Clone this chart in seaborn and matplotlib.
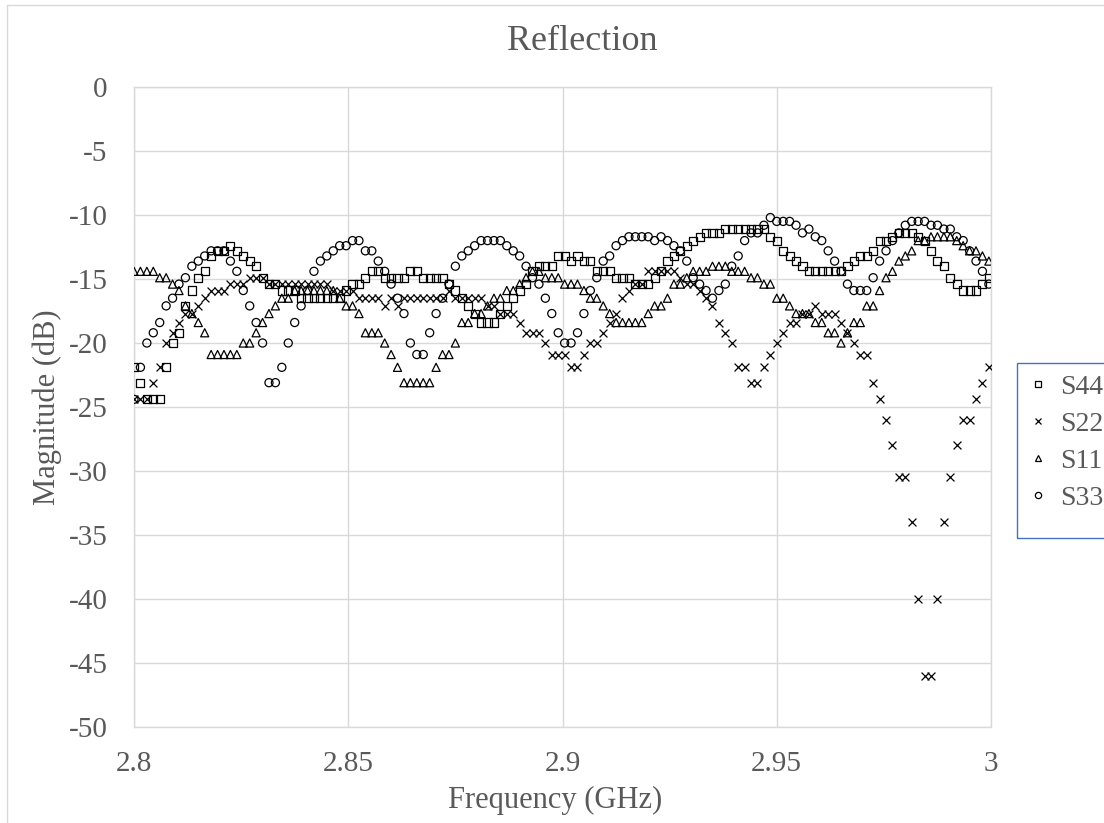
import numpy as np
import pandas as pd
import matplotlib
matplotlib.use("Agg")
import matplotlib.pyplot as plt
from matplotlib.lines import Line2D
from matplotlib.patches import Rectangle
import seaborn as sns

# ---------------- data (dB), sweep 2.8 GHz .. 2.9995 GHz, 1.5 MHz step ----------------
freq = np.round(np.arange(134) * 0.0015 + 2.8, 4)

s44 = [-21.9, -23.1, -24.4, -24.4, -24.4, -21.9, -20.0, -19.2, -17.1, -15.9,
       -14.9, -14.4, -13.2, -12.8, -12.8, -12.4, -12.8, -13.2, -13.6, -14.0,
       -14.9, -15.4, -15.4, -15.9, -15.9, -15.9, -16.5, -16.5, -16.5, -16.5,
       -16.5, -16.5, -16.5, -15.9, -15.4, -15.4, -14.9, -14.4, -14.4, -14.9,
       -14.9, -14.9, -14.9, -14.4, -14.4, -14.9, -14.9, -14.9, -14.9, -15.4,
       -15.9, -16.5, -17.1, -17.7, -18.4, -18.4, -18.4, -17.7, -17.1, -16.5,
       -15.9, -15.4, -14.4, -14.0, -14.0, -14.0, -13.2, -13.2, -13.6, -13.2,
       -13.6, -13.6, -14.4, -14.4, -14.4, -14.9, -14.9, -14.9, -15.4, -15.4,
       -15.4, -14.9, -14.4, -13.6, -13.2, -12.8, -12.4, -12.0, -11.7, -11.4,
       -11.4, -11.4, -11.1, -11.1, -11.1, -11.1, -11.1, -11.1, -11.1, -11.7,
       -12.0, -12.8, -13.2, -13.6, -14.0, -14.4, -14.4, -14.4, -14.4, -14.4,
       -14.4, -14.0, -13.6, -13.2, -13.2, -12.8, -12.0, -12.0, -11.7, -11.4,
       -11.4, -11.4, -11.7, -12.0, -12.8, -13.6, -14.0, -14.9, -15.4, -15.9,
       -15.9, -15.9, -15.4, -14.9]

s22 = [-24.4, -24.4, -24.4, -23.1, -21.9, -20.0, -19.2, -18.4, -17.7, -17.7,
       -17.1, -16.5, -15.9, -15.9, -15.9, -15.4, -15.4, -15.4, -14.9, -14.9,
       -14.9, -15.4, -15.4, -15.4, -15.4, -15.4, -15.4, -15.4, -15.4, -15.4,
       -15.4, -15.9, -15.9, -15.9, -15.9, -16.5, -16.5, -16.5, -16.5, -17.1,
       -16.5, -17.1, -16.5, -16.5, -16.5, -16.5, -16.5, -16.5, -16.5, -15.9,
       -16.5, -16.5, -16.5, -16.5, -16.5, -17.1, -17.1, -17.7, -17.7, -17.7,
       -18.4, -19.2, -19.2, -19.2, -20.0, -20.9, -20.9, -20.9, -21.9, -21.9,
       -20.9, -20.0, -20.0, -19.2, -18.4, -17.7, -16.5, -15.9, -15.4, -15.4,
       -14.4, -14.4, -14.4, -14.4, -14.4, -14.9, -15.4, -15.4, -15.9, -16.5,
       -17.1, -18.4, -19.2, -20.0, -21.9, -21.9, -23.1, -23.1, -21.9, -20.9,
       -20.0, -19.2, -18.4, -18.4, -17.7, -17.7, -17.1, -17.7, -17.7, -17.7,
       -18.4, -19.2, -20.0, -20.9, -20.9, -23.1, -24.4, -26.0, -28.0, -30.5,
       -30.5, -34.0, -40.0, -46.0, -46.0, -40.0, -34.0, -30.5, -28.0, -26.0,
       -26.0, -24.4, -23.1, -21.9]

s11 = [-14.4, -14.4, -14.4, -14.4, -14.9, -14.9, -15.4, -15.9, -17.1, -17.7,
       -18.4, -19.2, -20.9, -20.9, -20.9, -20.9, -20.9, -20.0, -20.0, -19.2,
       -18.4, -17.7, -17.1, -16.5, -16.5, -15.9, -15.9, -15.9, -15.9, -15.9,
       -15.9, -15.9, -16.5, -17.1, -17.1, -17.7, -19.2, -19.2, -19.2, -20.0,
       -20.9, -21.9, -23.1, -23.1, -23.1, -23.1, -23.1, -21.9, -20.9, -20.9,
       -20.0, -18.4, -18.4, -17.7, -17.7, -17.1, -16.5, -16.5, -15.9, -15.9,
       -15.4, -14.9, -14.4, -14.4, -14.9, -14.9, -14.9, -15.4, -15.4, -15.4,
       -15.9, -16.5, -16.5, -17.1, -17.7, -18.4, -18.4, -18.4, -18.4, -18.4,
       -17.7, -17.1, -17.1, -16.5, -15.4, -15.4, -14.9, -14.4, -14.4, -14.4,
       -14.0, -14.0, -14.0, -14.4, -14.4, -14.4, -14.9, -14.9, -15.4, -15.4,
       -16.5, -16.5, -17.1, -17.7, -17.7, -17.7, -18.4, -18.4, -19.2, -19.2,
       -20.0, -19.2, -18.4, -18.4, -17.1, -17.1, -15.9, -14.9, -14.4, -13.6,
       -13.2, -12.8, -12.0, -12.0, -11.7, -11.7, -11.7, -11.7, -12.0, -12.4,
       -12.8, -12.8, -13.2, -13.6]

s33 = [-24.4, -21.9, -20.0, -19.2, -18.4, -17.1, -16.5, -15.4, -14.9, -14.0,
       -13.6, -13.2, -12.8, -12.8, -12.8, -13.6, -14.4, -15.9, -17.1, -18.4,
       -20.0, -23.1, -23.1, -21.9, -20.0, -18.4, -17.1, -15.9, -14.4, -13.6,
       -13.2, -12.8, -12.4, -12.4, -12.0, -12.0, -12.8, -12.8, -13.6, -14.4,
       -15.4, -16.5, -17.7, -20.0, -20.9, -20.9, -19.2, -17.7, -16.5, -15.4,
       -14.0, -13.2, -12.8, -12.4, -12.0, -12.0, -12.0, -12.0, -12.4, -12.8,
       -13.2, -14.0, -14.9, -15.4, -16.5, -17.7, -19.2, -20.0, -20.0, -19.2,
       -17.7, -15.9, -14.9, -13.6, -13.2, -12.4, -12.0, -11.7, -11.7, -11.7,
       -11.7, -12.0, -11.7, -12.0, -12.4, -12.8, -13.6, -14.9, -15.4, -15.9,
       -16.5, -15.9, -15.4, -14.0, -13.2, -12.0, -11.4, -11.4, -10.8, -10.2,
       -10.5, -10.5, -10.5, -10.8, -11.4, -11.1, -11.7, -12.0, -12.8, -13.6,
       -14.4, -15.4, -15.9, -15.9, -15.9, -14.9, -13.6, -12.8, -12.0, -11.4,
       -10.8, -10.5, -10.5, -10.5, -10.8, -10.8, -11.1, -11.1, -11.7, -12.0,
       -12.8, -13.6, -14.4, -15.4]

series_names = ["S44", "S22", "S11", "S33"]
series_values = [s44, s22, s11, s33]
series_markers = ["s", "x", "^", "o"]

x_ticks = [2.8, 2.85, 2.9, 2.95, 3.0]
x_ticklabels = ["2.8", "2.85", "2.9", "2.95", "3"]
y_ticks = list(range(-50, 1, 5))
y_ticklabels = [str(v) for v in y_ticks]

title = "Reflection"
xlabel = "Frequency (GHz)"
ylabel = "Magnitude (dB)"

# ---------------- styling ----------------
sns.set_style("white")
plt.rcParams["font.family"] = ["Liberation Serif", "DejaVu Serif"]
TXT = "#595959"
GRID = "#d9d9d9"

W, H = 1104, 823
fig = plt.figure(figsize=(W / 100, H / 100), dpi=100)
fig.patch.set_facecolor("white")
ax = fig.add_axes([134 / W, 1 - 727 / H, 857 / W, 640 / H])

for name, vals, mk in zip(series_names, series_values, series_markers):
    df = pd.DataFrame({"freq": freq, "dB": vals})
    if mk == "x":
        sns.scatterplot(data=df, x="freq", y="dB", marker="x", s=32,
                        color="black", linewidth=0.9, ax=ax, legend=False, zorder=3)
    else:
        sns.scatterplot(data=df, x="freq", y="dB", marker=mk, s=34,
                        facecolors="none", edgecolor="black", linewidth=0.9,
                        ax=ax, legend=False, zorder=3)

ax.set_xlim(2.8, 3.0)
ax.set_ylim(-50, 0)
ax.set_xticks(x_ticks)
ax.set_xticklabels(x_ticklabels)
ax.set_yticks(y_ticks)
ax.set_yticklabels(y_ticklabels)
ax.grid(True, color=GRID, linewidth=1.0)
ax.set_axisbelow(True)
for sp in ax.spines.values():
    sp.set_color(GRID)
    sp.set_linewidth(1.0)
ax.tick_params(axis="both", length=0, labelsize=21, colors=TXT)
ax.tick_params(axis="y", pad=19)
ax.tick_params(axis="x", pad=17)
ax.set_xlabel("")
ax.set_ylabel("")

fig.text(582 / W, 1 - 42 / H, title, ha="center", va="center", fontsize=26, color=TXT)
fig.text(555 / W, 1 - 800 / H, xlabel, ha="center", va="center", fontsize=22, color=TXT)
fig.text(47 / W, 1 - 407 / H, ylabel, ha="center", va="center", fontsize=22,
         color=TXT, rotation=90)

# legend (outside the plot, clipped by the right figure edge like the reference)
handles = [Line2D([], [], marker=m, linestyle="none", markersize=4.5,
                  markerfacecolor="none", markeredgecolor="black",
                  color="black", markeredgewidth=0.9)
           for m in series_markers]
leg = fig.legend(handles, series_names, loc="upper left",
                 bbox_to_anchor=(1020 / W, 1 - 366 / H), frameon=False,
                 fontsize=20, labelcolor=TXT, handlelength=0.7,
                 handletextpad=0.45, labelspacing=0.42, borderpad=0.3,
                 borderaxespad=0)
fig.add_artist(Rectangle((1017 / W, 1 - 538 / H), 100 / W, 175 / H,
                         transform=fig.transFigure, fill=False,
                         edgecolor="#4472C4", linewidth=1.0))

# outer chart-area border
fig.add_artist(Line2D([7 / W, 7 / W], [0, 1 - 5 / H], color=GRID, linewidth=1.0))
fig.add_artist(Line2D([7 / W, 1], [1 - 5 / H, 1 - 5 / H], color=GRID, linewidth=1.0))

fig.savefig("out.png", dpi=100)
